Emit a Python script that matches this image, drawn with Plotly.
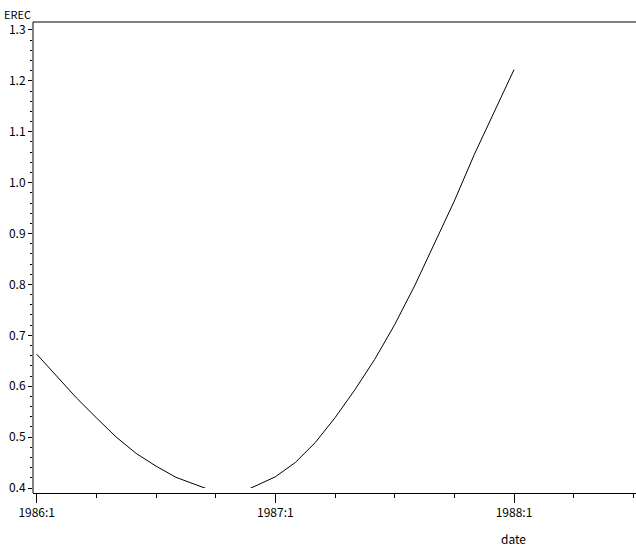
import plotly.graph_objects as go

# Monthly observations, 1986:1 .. 1988:1
dates = ["1986:1", "1986:2", "1986:3", "1986:4", "1986:5", "1986:6", "1986:7",
         "1986:8", "1986:9", "1986:10", "1986:11", "1986:12", "1987:1", "1987:2",
         "1987:3", "1987:4", "1987:5", "1987:6", "1987:7", "1987:8", "1987:9",
         "1987:10", "1987:11", "1987:12", "1988:1"]
erec = [0.663, 0.621, 0.577, 0.538, 0.500, 0.468, 0.443, 0.421, 0.406, 0.392,
        0.386, 0.404, 0.422, 0.450, 0.489, 0.538, 0.593, 0.653, 0.721, 0.797,
        0.879, 0.964, 1.055, 1.140, 1.222]

major_tick_labels = ["1986:1", "1987:1", "1988:1"]


def to_num(s):
    y, m = s.split(":")
    return int(y) + (int(m) - 1) / 12.0


x = [to_num(d) for d in dates]
major_tick_vals = [to_num(s) for s in major_tick_labels]

FONT = "Noto Sans CJK JP"
W, H = 636, 550
L, R, T, B = 33, 0, 22, 57
plot_h = H - T - B
plot_w = W - L - R

fig = go.Figure()
fig.add_trace(go.Scatter(x=x, y=erec, mode="lines",
                         line=dict(color="black", width=1),
                         showlegend=False, hoverinfo="skip"))

fig.update_layout(
    width=W, height=H,
    margin=dict(l=L, r=R, t=T, b=B, pad=0, autoexpand=False),
    paper_bgcolor="white", plot_bgcolor="white",
    font=dict(family=FONT, size=12, color="black"),
    xaxis=dict(
        range=[1985.9845, 1988.5112],
        anchor="free", position=0, automargin=False,
        showgrid=False, zeroline=False, showline=True,
        linecolor="black", linewidth=1,
        tickmode="array", tickvals=major_tick_vals, ticktext=major_tick_labels,
        ticks="outside", ticklen=9, tickwidth=1, tickcolor="black",
        tickfont=dict(family=FONT, size=12, color="black"),
        minor=dict(tickmode="linear", tick0=1986, dtick=0.25,
                   ticks="outside", ticklen=4, tickwidth=1, tickcolor="black",
                   showgrid=False),
    ),
    yaxis=dict(
        domain=[5 / plot_h, 1], automargin=False,
        range=[0.4, 1.3157],
        showgrid=False, zeroline=False, showline=False,
        tickmode="linear", tick0=0.4, dtick=0.1, tickformat=".1f",
        ticks="outside", ticklen=4, tickwidth=1, tickcolor="black",
        tickfont=dict(family=FONT, size=12, color="black"),
        minor=dict(tickmode="linear", tick0=0.4, dtick=0.02,
                   ticks="outside", ticklen=2, tickwidth=1, tickcolor="black",
                   showgrid=False),
    ),
    shapes=[
        dict(type="line", xref="paper", yref="paper", x0=0, x1=0, y0=0, y1=1,
             line=dict(color="black", width=1)),
        dict(type="line", xref="paper", yref="paper", x0=0, x1=1, y0=1, y1=1,
             line=dict(color="black", width=1)),
    ],
    annotations=[
        dict(text="EREC", xref="paper", yref="paper",
             x=(2 - L) / plot_w, y=(H - B - 14) / plot_h,
             xanchor="left", yanchor="middle", showarrow=False,
             font=dict(family=FONT, size=11, color="black")),
        dict(text="date", xref="paper", yref="paper",
             x=(513 - L) / plot_w, y=(H - B - 538) / plot_h,
             xanchor="center", yanchor="middle", showarrow=False,
             font=dict(family=FONT, size=12, color="black")),
    ],
)

fig.write_html(
    "out.html",
    config={"displayModeBar": False},
    post_script="document.body.style.margin='0';document.body.style.overflow='hidden';",
)
